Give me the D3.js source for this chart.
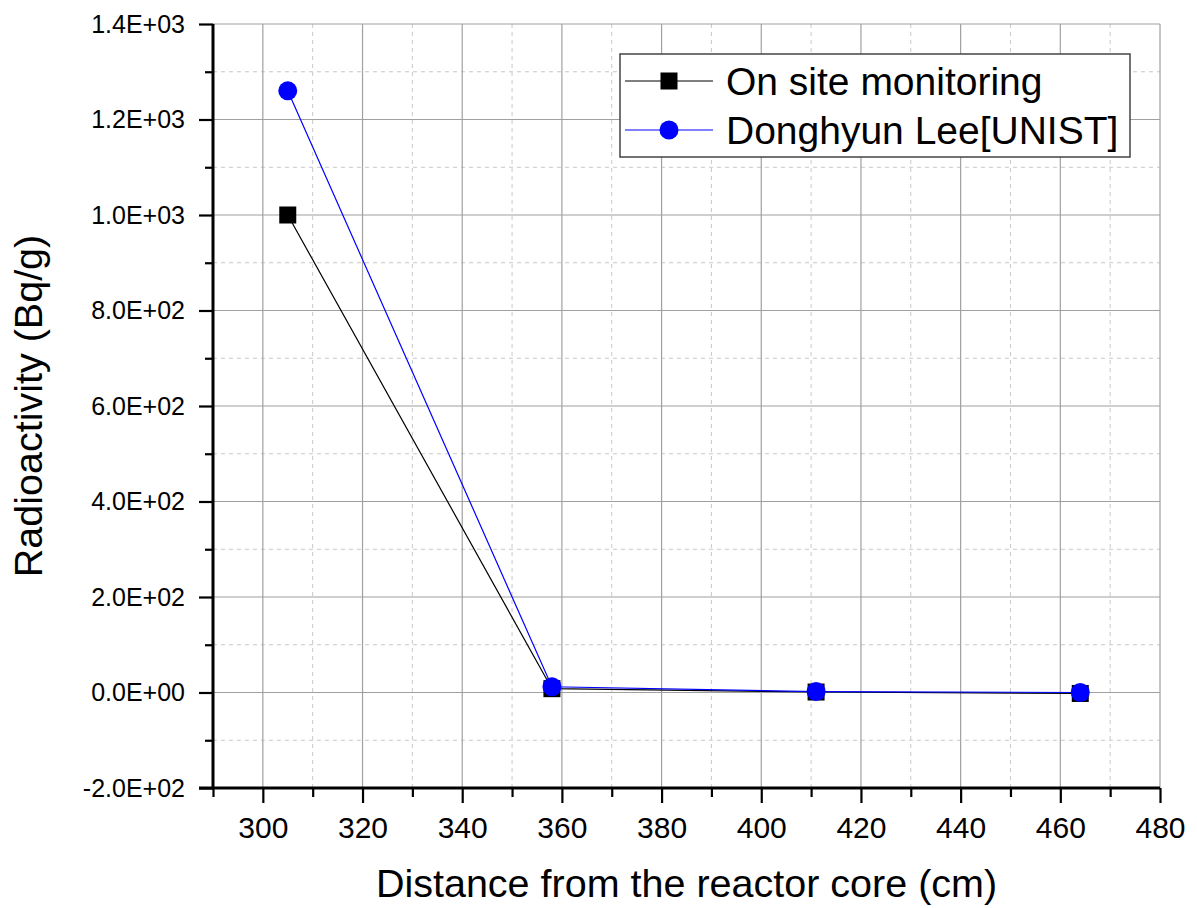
<!DOCTYPE html>
<html>
<head>
<meta charset="utf-8">
<script src="https://cdn.jsdelivr.net/npm/d3@7"></script>
<style>
  body { margin: 0; background: #fff; }
  text { font-family: "Liberation Sans", Arial, sans-serif; }
</style>
</head>
<body>
<div class="container"></div>
<script>
// data
var distances = [305, 358, 411, 464];
var onSite    = [1000, 8, 1, -2];
var unist     = [1260, 12, 2, 0];
var seriesNames = ["On site monitoring", "Donghyun Lee[UNIST]"];
var xTicks = [300, 320, 340, 360, 380, 400, 420, 440, 460, 480];
var yTicks = [-200, 0, 200, 400, 600, 800, 1000, 1200, 1400];

var width = 1197, height = 908;
var pLeft = 213, pRight = 1160, pTop = 24, pBottom = 788;

var svg = d3.select(".container").append("svg")
            .attr("width", width)
            .attr("height", height);

var x = d3.scaleLinear().domain([290, 480]).range([pLeft, pRight]);
var y = d3.scaleLinear().domain([-200, 1400]).range([pBottom, pTop]);

var xMinor = d3.range(290, 481, 10).filter(v => xTicks.indexOf(v) < 0);
var yMinor = d3.range(-100, 1400, 200);

// minor grid, dashed
svg.append("g").selectAll("line").data(xMinor).enter().append("line")
   .attr("x1", d => x(d)).attr("x2", d => x(d))
   .attr("y1", pTop).attr("y2", pBottom)
   .attr("stroke", "#c8c8c8").attr("stroke-dasharray", "4,4");
svg.append("g").selectAll("line").data(yMinor).enter().append("line")
   .attr("x1", pLeft).attr("x2", pRight)
   .attr("y1", d => y(d)).attr("y2", d => y(d))
   .attr("stroke", "#c8c8c8").attr("stroke-dasharray", "4,4");

// major grid
svg.append("g").selectAll("line").data(xTicks).enter().append("line")
   .attr("x1", d => x(d)).attr("x2", d => x(d))
   .attr("y1", pTop).attr("y2", pBottom)
   .attr("stroke", "#a0a0a0").attr("stroke-width", 1.2);
svg.append("g").selectAll("line").data(yTicks).enter().append("line")
   .attr("x1", pLeft).attr("x2", pRight)
   .attr("y1", d => y(d)).attr("y2", d => y(d))
   .attr("stroke", "#a0a0a0").attr("stroke-width", 1.2);

// axes
var xAxis = svg.append("g").attr("transform", `translate(0,${pBottom})`)
   .call(d3.axisBottom(x).tickValues(xTicks).tickSize(15).tickPadding(14).tickFormat(d3.format("d")));
svg.append("g").attr("transform", `translate(0,${pBottom})`)
   .call(d3.axisBottom(x).tickValues(xMinor).tickSize(9).tickFormat(""))
   .select(".domain").remove();
xAxis.selectAll(".tick text").style("font-size", "30px");

var fmtE = function(v) {
  if (v === 0) return "0.0E+00";
  var e = Math.floor(Math.log10(Math.abs(v)));
  var m = v / Math.pow(10, e);
  return m.toFixed(1) + "E+" + (e < 10 ? "0" + e : e);
};

var yAxis = svg.append("g").attr("transform", `translate(${pLeft},0)`)
   .call(d3.axisLeft(y).tickValues(yTicks).tickSize(14).tickPadding(14).tickFormat(fmtE));
svg.append("g").attr("transform", `translate(${pLeft},0)`)
   .call(d3.axisLeft(y).tickValues(yMinor).tickSize(8).tickFormat(""))
   .select(".domain").remove();
yAxis.selectAll(".tick text").style("font-size", "25px");

svg.selectAll(".domain").attr("stroke", "#000").attr("stroke-width", 3);
xAxis.select(".domain").attr("d", `M${pLeft - 14},0H${pRight}`);
yAxis.select(".domain").attr("d", `M0,${pTop}V${pBottom}`);
svg.selectAll(".tick line").attr("stroke", "#000").attr("stroke-width", 2.2);
svg.selectAll(".tick text").attr("fill", "#000");

// axis titles
svg.append("text")
   .attr("x", (pLeft + pRight) / 2).attr("y", 897)
   .attr("text-anchor", "middle")
   .style("font-size", "39.5px")
   .text("Distance from the reactor core (cm)");
svg.append("text")
   .attr("transform", `translate(42,${(pTop + pBottom) / 2}) rotate(-90)`)
   .attr("text-anchor", "middle")
   .style("font-size", "39.5px")
   .text("Radioactivity (Bq/g)");

// series
var line = d3.line().x(d => x(d[0])).y(d => y(d[1]));
var s1 = distances.map((d, i) => [d, onSite[i]]);
var s2 = distances.map((d, i) => [d, unist[i]]);

svg.append("path").datum(s1).attr("d", line)
   .attr("fill", "none").attr("stroke", "#000").attr("stroke-width", 1.2);
svg.append("path").datum(s2).attr("d", line)
   .attr("fill", "none").attr("stroke", "#0000ff").attr("stroke-width", 1.2);

svg.append("g").selectAll("rect").data(s1).enter().append("rect")
   .attr("x", d => x(d[0]) - 8.5).attr("y", d => y(d[1]) - 8.5)
   .attr("width", 17).attr("height", 17).attr("fill", "#000");
svg.append("g").selectAll("circle").data(s2).enter().append("circle")
   .attr("cx", d => x(d[0])).attr("cy", d => y(d[1]))
   .attr("r", 9.5).attr("fill", "#0000ff");

// legend
var lg = svg.append("g");
lg.append("rect").attr("x", 620).attr("y", 54).attr("width", 510).attr("height", 103)
  .attr("fill", "#fff").attr("stroke", "#444").attr("stroke-width", 1.5);
var rows = [{name: seriesNames[0], color: "#000", y: 81, shape: "rect"},
            {name: seriesNames[1], color: "#0000ff", y: 130, shape: "circle"}];
rows.forEach(function(r) {
  lg.append("line").attr("x1", 625).attr("x2", 713).attr("y1", r.y).attr("y2", r.y)
    .attr("stroke", r.color).attr("stroke-width", 1.2);
  if (r.shape === "rect") {
    lg.append("rect").attr("x", 660.5).attr("y", r.y - 8.5).attr("width", 17).attr("height", 17).attr("fill", r.color);
  } else {
    lg.append("circle").attr("cx", 669).attr("cy", r.y).attr("r", 9.5).attr("fill", r.color);
  }
  lg.append("text").attr("x", 726).attr("y", r.y + 13.5)
    .style("font-size", "39px").text(r.name);
});
</script>
</body>
</html>
